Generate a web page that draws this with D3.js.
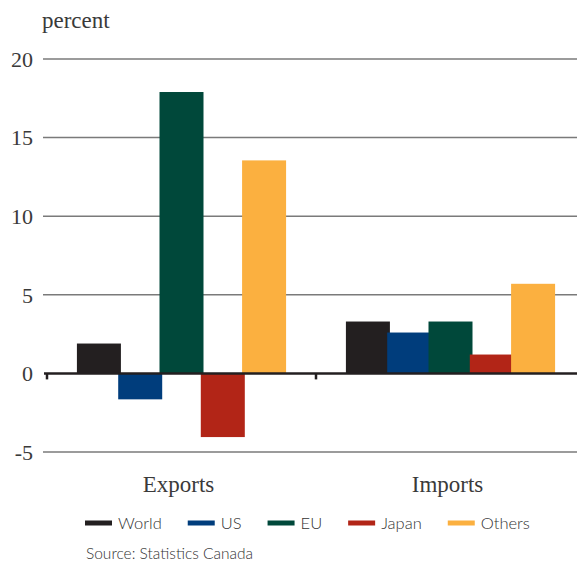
<!DOCTYPE html>
<html><head><meta charset="utf-8">
<script src="https://cdn.jsdelivr.net/npm/d3@7"></script>
<style>body{margin:0;background:#fff}svg{display:block}</style>
</head><body>
<script>
const categories = ["Exports", "Imports"];
const series = ["World", "US", "EU", "Japan", "Others"];
const exportsValues = [1.9, -1.65, 17.9, -4.05, 13.55];
const importsValues = [3.3, 2.6, 3.3, 1.2, 5.7];
const yTicks = [-5, 0, 5, 10, 15, 20];
const colors = ["#231f20", "#003d7c", "#00483a", "#b22517", "#fbb040"];
const sourceText = "Source: Statistics Canada";
const yUnit = "percent";

const W = 577, H = 562;
const svg = d3.select("body").append("svg").attr("width", W).attr("height", H);

const data = categories.map((c, i) => ({cat: c, values: (i === 0 ? exportsValues : importsValues)}));

const y = d3.scaleLinear().domain([-5, 20]).range([452, 59]);
const x = d3.scaleBand().domain(categories).range([47, 585]).padding(0);
const xs = d3.scaleBand().domain(series).range([0, x.bandwidth()]).paddingInner(0).paddingOuter(0.757);
const color = d3.scaleOrdinal().domain(series).range(colors);

// gridlines
svg.append("g").selectAll("line").data(yTicks.filter(t => t !== 0)).join("line")
  .attr("x1", 43).attr("x2", W).attr("y1", d => y(d)).attr("y2", d => y(d))
  .attr("stroke", "#7a7a7a").attr("stroke-width", 1.5);

// y labels
svg.append("g").selectAll("text").data(yTicks).join("text")
  .attr("x", 33).attr("y", d => y(d)).attr("dy", "0.35em")
  .attr("text-anchor", "end")
  .attr("font-family", "Liberation Serif, serif").attr("font-size", 22).attr("fill", "#3a3a3a")
  .text(d => d);

svg.append("text").attr("x", 42).attr("y", 28)
  .attr("font-family", "Liberation Serif, serif").attr("font-size", 23).attr("fill", "#3a3a3a")
  .text(yUnit);

// bars
const bw = 44;
const groups = svg.append("g").selectAll("g").data(data).join("g")
  .attr("transform", d => `translate(${x(d.cat)},0)`);
groups.selectAll("rect").data(d => d.values.map((v, i) => ({s: series[i], v}))).join("rect")
  .attr("x", d => xs(d.s) + xs.bandwidth() / 2 - bw / 2)
  .attr("width", bw)
  .attr("y", d => y(Math.max(0, d.v)))
  .attr("height", d => Math.abs(y(d.v) - y(0)))
  .attr("fill", d => color(d.s));

// zero axis
svg.append("line").attr("x1", 44).attr("x2", W).attr("y1", y(0)).attr("y2", y(0))
  .attr("stroke", "#231f20").attr("stroke-width", 2.5);
const tickXs = [x.range()[0], x(categories[1])];
svg.append("g").selectAll("line").data(tickXs).join("line")
  .attr("x1", d => d).attr("x2", d => d).attr("y1", y(0)).attr("y2", y(0) + 6)
  .attr("stroke", "#231f20").attr("stroke-width", 2.5);

// category labels
svg.append("g").selectAll("text").data(categories).join("text")
  .attr("x", d => x(d) + x.bandwidth() / 2 - 3).attr("y", 492)
  .attr("text-anchor", "middle")
  .attr("font-family", "Liberation Serif, serif").attr("font-size", 23).attr("fill", "#3a3a3a")
  .text(d => d);

// legend
const lg = svg.append("g");
let lx = 85;
series.forEach((s, i) => {
  lg.append("rect").attr("x", lx).attr("y", 520.5).attr("width", 27).attr("height", 5).attr("fill", colors[i]);
  const t = lg.append("text").attr("x", lx + 33).attr("y", 529)
    .attr("font-family", "Lato, sans-serif").attr("font-weight", 300).attr("font-size", 16.5).attr("fill", "#333")
    .text(s);
  lx = lx + 33 + t.node().getComputedTextLength() + 26;
});

svg.append("text").attr("x", 86).attr("y", 559)
  .attr("font-family", "Lato, sans-serif").attr("font-weight", 300).attr("font-size", 15.5).attr("fill", "#333")
  .text(sourceText);
</script>
</body></html>
